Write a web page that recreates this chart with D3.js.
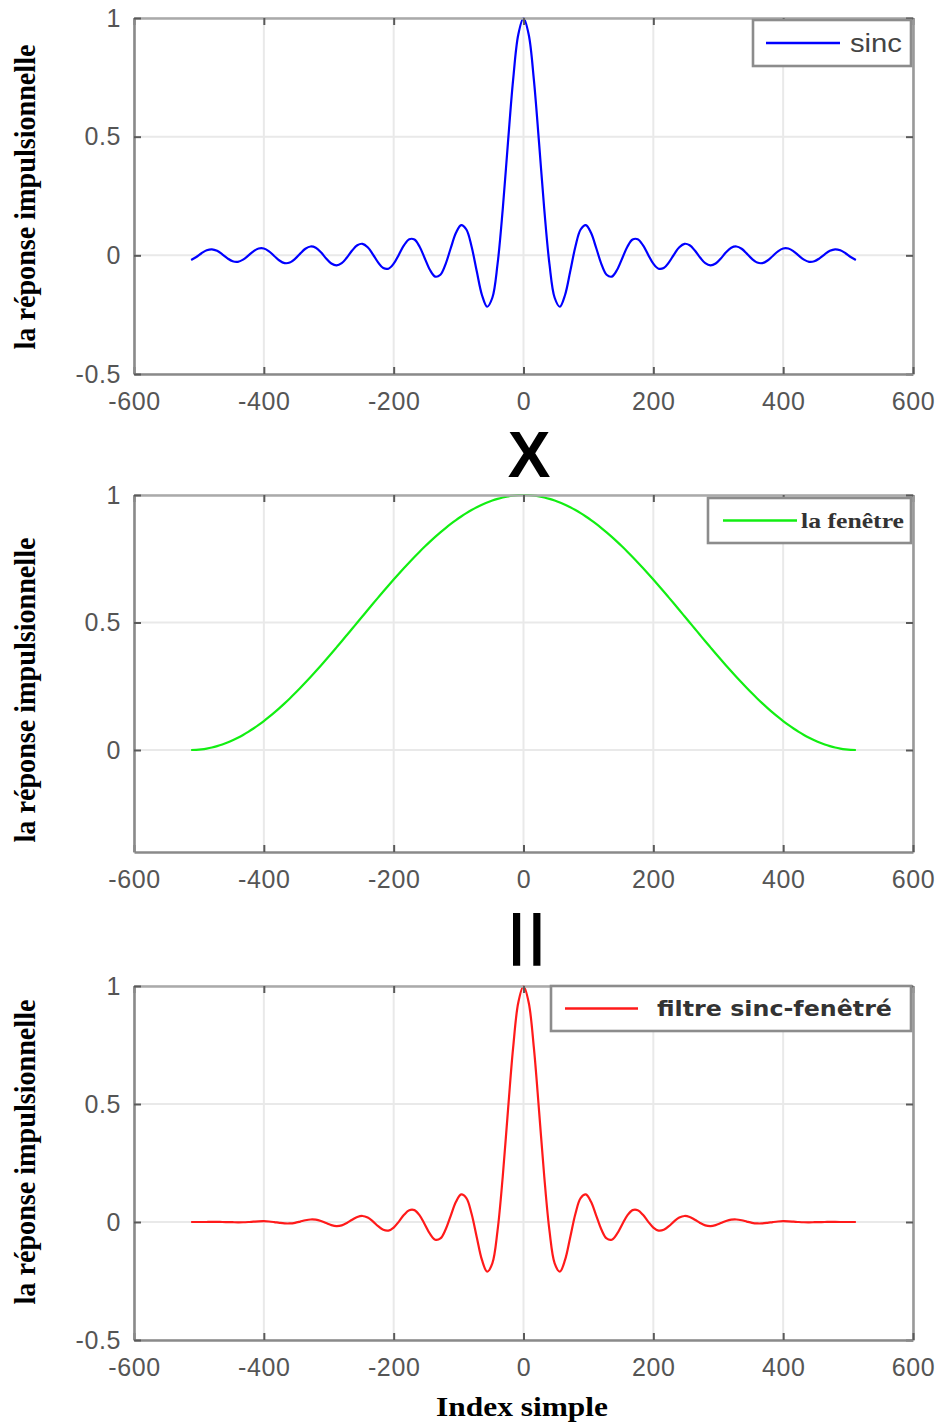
<!DOCTYPE html>
<html>
<head>
<meta charset="utf-8">
<script src="https://cdn.jsdelivr.net/npm/d3@7/dist/d3.min.js"></script>
<style>
  html, body { margin: 0; padding: 0; background: #ffffff; }
  svg { display: block; }
</style>
</head>
<body>
<svg id="chart" width="941" height="1423"></svg>
<script>
// Sample positions (index n) shared by all three curves
const sampleIndex = [
  -512,-504,-496,-488,-480,-472,-464,-456,-448,-440,-432,-424,-416,-408,-400,-392,
  -384,-376,-368,-360,-352,-344,-336,-328,-320,-312,-304,-296,-288,-280,-272,-264,
  -256,-248,-240,-232,-224,-216,-208,-200,-192,-184,-176,-168,-160,-152,-144,-136,
  -128,-120,-112,-104,-96,-88,-80,-72,-64,-56,-48,-40,-32,-24,-16,-8,
  0,
  8,16,24,32,40,48,56,64,72,80,88,96,104,112,120,128,
  136,144,152,160,168,176,184,192,200,208,216,224,232,240,248,256,
  264,272,280,288,296,304,312,320,328,336,344,352,360,368,376,384,
  392,400,408,416,424,432,440,448,456,464,472,480,488,496,504,512
];

// Ideal low-pass impulse response (sinc)
const sincValues = [
  -0.0193,-0.0069,0.0089,0.0214,0.0254,
  0.0189,0.0043,-0.0126,-0.0249,-0.0272,-0.0181,-0.0012,0.0169,0.0286,0.0288,
  0.0169,-0.0026,-0.0218,-0.0327,-0.0304,-0.0151,0.0072,0.0276,0.0373,0.0318,
  0.0126,-0.0129,-0.0344,-0.0425,-0.0331,-0.0091,0.0201,0.0427,0.0486,0.0342,
  0.0043,-0.0296,-0.0534,-0.0562,-0.0352,0.0026,0.0426,0.0679,0.0664,0.0360,
  -0.0131,-0.0620,-0.0896,-0.0816,-0.0367,0.0308,0.0950,0.1276,0.1089,0.0371,
  -0.0675,-0.1671,-0.2166,-0.1787,-0.0374,0.1937,0.4727,0.7392,0.9305,
  1,
  0.9305,0.7392,0.4727,0.1937,-0.0374,-0.1787,-0.2166,-0.1671,-0.0675,
  0.0371,0.1089,0.1276,0.0950,0.0308,-0.0367,-0.0816,-0.0896,-0.0620,-0.0131,
  0.0360,0.0664,0.0679,0.0426,0.0026,-0.0352,-0.0562,-0.0534,-0.0296,0.0043,
  0.0342,0.0486,0.0427,0.0201,-0.0091,-0.0331,-0.0425,-0.0344,-0.0129,0.0126,
  0.0318,0.0373,0.0276,0.0072,-0.0151,-0.0304,-0.0327,-0.0218,-0.0026,0.0169,
  0.0288,0.0286,0.0169,-0.0012,-0.0181,-0.0272,-0.0249,-0.0126,0.0043,0.0189,
  0.0254,0.0214,0.0089,-0.0069,-0.0193
];

// Window (raised cosine)
const windowValues = [
  0,0.0006,0.0024,0.0054,0.0096,
  0.0150,0.0215,0.0292,0.0381,0.0480,0.0590,0.0711,0.0843,0.0984,0.1135,
  0.1295,0.1464,0.1642,0.1828,0.2021,0.2222,0.2429,0.2643,0.2862,0.3087,
  0.3316,0.3549,0.3785,0.4025,0.4266,0.4510,0.4755,0.5,0.5245,0.5490,
  0.5734,0.5975,0.6215,0.6451,0.6684,0.6913,0.7138,0.7357,0.7571,0.7778,
  0.7979,0.8172,0.8358,0.8536,0.8705,0.8865,0.9016,0.9157,0.9289,0.9410,
  0.9520,0.9619,0.9708,0.9785,0.9850,0.9904,0.9946,0.9976,0.9994,
  1,
  0.9994,0.9976,0.9946,0.9904,0.9850,0.9785,0.9708,0.9619,0.9520,
  0.9410,0.9289,0.9157,0.9016,0.8865,0.8705,0.8536,0.8358,0.8172,0.7979,
  0.7778,0.7571,0.7357,0.7138,0.6913,0.6684,0.6451,0.6215,0.5975,0.5734,
  0.5490,0.5245,0.5,0.4755,0.4510,0.4266,0.4025,0.3785,0.3549,0.3316,
  0.3087,0.2862,0.2643,0.2429,0.2222,0.2021,0.1828,0.1642,0.1464,0.1295,
  0.1135,0.0984,0.0843,0.0711,0.0590,0.0480,0.0381,0.0292,0.0215,0.0150,
  0.0096,0.0054,0.0024,0.0006,0
];

// Windowed-sinc filter
const filteredValues = [
  0,0,0,0.0001,0.0002,
  0.0003,0.0001,-0.0004,-0.0009,-0.0013,-0.0011,-0.0001,0.0014,0.0028,0.0033,
  0.0022,-0.0004,-0.0036,-0.0060,-0.0061,-0.0034,0.0017,0.0073,0.0107,0.0098,
  0.0042,-0.0046,-0.0130,-0.0171,-0.0141,-0.0041,0.0096,0.0214,0.0255,0.0188,
  0.0025,-0.0177,-0.0332,-0.0363,-0.0235,0.0018,0.0304,0.0500,0.0503,0.0280,
  -0.0105,-0.0507,-0.0749,-0.0697,-0.0319,0.0273,0.0857,0.1168,0.1012,0.0349,
  -0.0643,-0.1607,-0.2103,-0.1749,-0.0368,0.1918,0.4701,0.7374,0.9299,
  1,
  0.9299,0.7374,0.4701,0.1918,-0.0368,-0.1749,-0.2103,-0.1607,-0.0643,
  0.0349,0.1012,0.1168,0.0857,0.0273,-0.0319,-0.0697,-0.0749,-0.0507,-0.0105,
  0.0280,0.0503,0.0500,0.0304,0.0018,-0.0235,-0.0363,-0.0332,-0.0177,0.0025,
  0.0188,0.0255,0.0214,0.0096,-0.0041,-0.0141,-0.0171,-0.0130,-0.0046,0.0042,
  0.0098,0.0107,0.0073,0.0017,-0.0034,-0.0061,-0.0060,-0.0036,-0.0004,0.0022,
  0.0033,0.0028,0.0014,-0.0001,-0.0011,-0.0013,-0.0009,-0.0004,0.0001,0.0003,
  0.0002,0.0001,0,0,0
];

const xTicks = [-600, -400, -200, 0, 200, 400, 600];
const yTicksFull = [-0.5, 0, 0.5, 1];
const yTicksWindow = [0, 0.5, 1];
const xDomain = [-600, 600];
const yDomainFull = [-0.5, 1];
const yDomainWindow = [-0.4, 1];

const seriesNames = ["sinc", "la fenêtre", "filtre sinc-fenêtré"];
const yTitle = "la réponse impulsionnelle";
const xTitle = "Index simple";
const operatorLabels = ["X", "||"];

// ---------------------------------------------------------------
const svg = d3.select("#chart");
const plotLeft = 134, plotRight = 913;

const panels = [
  { values: sincValues, name: seriesNames[0], color: "#0000ff",
    top: 18, bottom: 374, yDomain: yDomainFull, yTicks: yTicksFull, titleY: 197,
    legend: { x0: 753, x1: 911, y0: 20, y1: 66, lx0: 766, lx1: 840, textX: 850, textW: 52,
              font: "'Liberation Sans', Arial, sans-serif", size: 25, weight: "normal", fill: "#444" } },
  { values: windowValues, name: seriesNames[1], color: "#12ee12",
    top: 495, bottom: 852, yDomain: yDomainWindow, yTicks: yTicksWindow, titleY: 690,
    legend: { x0: 708, x1: 911, y0: 498, y1: 543, lx0: 723, lx1: 797, textX: 801, textW: 103,
              font: "'Liberation Serif', 'Times New Roman', serif", size: 21, weight: "bold", fill: "#333" } },
  { values: filteredValues, name: seriesNames[2], color: "#ff1a1a",
    top: 986, bottom: 1340, yDomain: yDomainFull, yTicks: yTicksFull, titleY: 1152,
    legend: { x0: 551, x1: 911, y0: 986, y1: 1031, lx0: 565, lx1: 638, textX: 657, textW: 235,
              font: "'DejaVu Sans', 'Liberation Sans', sans-serif", size: 22, weight: "bold", fill: "#333" } }
];

const x = d3.scaleLinear().domain(xDomain).range([plotLeft, plotRight]);
const labelFont = "'Liberation Sans', Arial, Helvetica, sans-serif";

panels.forEach(p => {
  const y = d3.scaleLinear().domain(p.yDomain).range([p.bottom, p.top]);
  const g = svg.append("g");

  // grid lines
  g.append("g").selectAll("line").data(xTicks).join("line")
    .attr("x1", d => x(d)).attr("x2", d => x(d))
    .attr("y1", p.top).attr("y2", p.bottom)
    .attr("stroke", "#e9e9e9").attr("stroke-width", 2);
  g.append("g").selectAll("line").data(p.yTicks).join("line")
    .attr("x1", plotLeft).attr("x2", plotRight)
    .attr("y1", d => y(d)).attr("y2", d => y(d))
    .attr("stroke", "#e9e9e9").attr("stroke-width", 2);

  // curve
  const line = d3.line()
    .x((d, i) => x(sampleIndex[i]))
    .y(d => y(d))
    .curve(d3.curveCatmullRom.alpha(0.5));
  g.append("path").datum(p.values)
    .attr("d", line)
    .attr("fill", "none")
    .attr("stroke", p.color)
    .attr("stroke-width", 2.2)
    .attr("stroke-linejoin", "round");

  // axes (ticks pointing inward)
  const axB = d3.axisBottom(x).tickValues(xTicks).tickSizeInner(-7).tickSizeOuter(0)
    .tickPadding(18).tickFormat(d => String(d));
  const axT = d3.axisTop(x).tickValues(xTicks).tickSizeInner(-7).tickSizeOuter(0).tickFormat("");
  const axL = d3.axisLeft(y).tickValues(p.yTicks).tickSizeInner(-7).tickSizeOuter(0)
    .tickPadding(13).tickFormat(d => String(d));
  const axR = d3.axisRight(y).tickValues(p.yTicks).tickSizeInner(-7).tickSizeOuter(0).tickFormat("");

  const styleAxis = (sel, color) => {
    sel.select(".domain").attr("stroke", color).attr("stroke-width", 2.6);
    sel.selectAll(".tick line").attr("stroke", "#5a5a5a").attr("stroke-width", 2);
    sel.selectAll(".tick text").attr("fill", "#555").attr("font-family", labelFont)
      .attr("font-size", 25).attr("letter-spacing", "0.6px");
  };
  g.append("g").attr("transform", `translate(0,${p.top})`).call(axT).call(s => styleAxis(s, "#aaaaaa"));
  g.append("g").attr("transform", `translate(${plotRight},0)`).call(axR).call(s => styleAxis(s, "#999999"));
  g.append("g").attr("transform", `translate(0,${p.bottom})`).call(axB).call(s => styleAxis(s, "#8a8a8a"));
  g.append("g").attr("transform", `translate(${plotLeft},0)`).call(axL).call(s => styleAxis(s, "#8a8a8a"));

  // legend
  const L = p.legend;
  g.append("rect")
    .attr("x", L.x0).attr("y", L.y0).attr("width", L.x1 - L.x0).attr("height", L.y1 - L.y0)
    .attr("fill", "#fff").attr("stroke", "#8c8c8c").attr("stroke-width", 2.6);
  const ly = (L.y0 + L.y1) / 2;
  g.append("line")
    .attr("x1", L.lx0).attr("x2", L.lx1).attr("y1", ly).attr("y2", ly)
    .attr("stroke", p.color).attr("stroke-width", 2.4);
  g.append("text")
    .attr("x", L.textX).attr("y", ly).attr("dy", "0.35em")
    .attr("font-family", L.font).attr("font-size", L.size).attr("font-weight", L.weight)
    .attr("fill", L.fill)
    .attr("textLength", L.textW).attr("lengthAdjust", "spacingAndGlyphs")
    .text(p.name);

  // y axis title
  svg.append("text")
    .attr("transform", `translate(35,${p.titleY}) rotate(-90)`)
    .attr("text-anchor", "middle")
    .attr("font-family", "'Liberation Serif', 'Times New Roman', serif")
    .attr("font-weight", "bold").attr("font-size", 30).attr("fill", "#000")
    .attr("textLength", 305).attr("lengthAdjust", "spacingAndGlyphs")
    .text(yTitle);
});

// x axis title
svg.append("text")
  .attr("x", 522).attr("y", 1416).attr("text-anchor", "middle")
  .attr("font-family", "'Liberation Serif', 'Times New Roman', serif")
  .attr("font-weight", "bold").attr("font-size", 28).attr("fill", "#000")
  .attr("textLength", 172).attr("lengthAdjust", "spacingAndGlyphs")
  .text(xTitle);

// operators between panels
svg.append("text")
  .attr("x", 529).attr("y", 477).attr("text-anchor", "middle")
  .attr("font-family", "'Liberation Sans', Arial, sans-serif")
  .attr("font-weight", "bold").attr("font-size", 64).attr("fill", "#000")
  .text(operatorLabels[0]);
svg.append("text")
  .attr("x", 529).attr("y", 953).attr("text-anchor", "middle")
  .attr("font-family", "'Liberation Sans', Arial, sans-serif")
  .attr("font-weight", "bold").attr("font-size", 56).attr("fill", "#000")
  .attr("letter-spacing", "4.5px")
  .text(operatorLabels[1]);
</script>
</body>
</html>
